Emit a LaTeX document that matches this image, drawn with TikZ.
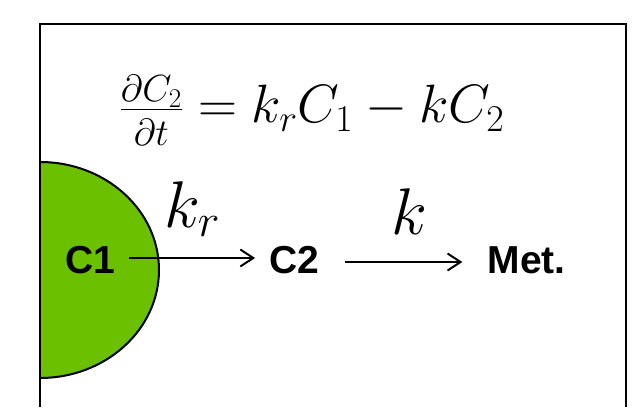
\RequirePackage{fix-cm}
\documentclass[tikz,border=0pt]{standalone}
\usepackage{fontspec}
\newfontfamily\arial{Liberation Sans}
\usetikzlibrary{arrows.meta,positioning}

\definecolor{poolgreen}{RGB}{107,192,0}

\begin{document}
\begin{tikzpicture}[
    x=1pt, y=1pt,
    species/.style={
        font=\arial\fontsize{39}{42}\selectfont\bfseries,
        inner sep=0pt
    },
    rate/.style={
        font=\fontsize{66}{72}\selectfont,
        inner sep=0pt
    },
    eqn/.style={
        font=\fontsize{54}{62}\selectfont,
        inner sep=0pt
    },
    frame/.style={draw=black, line width=2.4pt},
    pool/.style={draw=black, line width=2pt, fill=poolgreen},
    arrow/.style={-{Straight Barb[length=13pt,width=17pt]}, line width=2pt}
]

\useasboundingbox (0,0) rectangle (637,407);

% compartment C1 (half pool on the left wall)
\draw[pool] (40,245) arc[start angle=90, end angle=-90, x radius=119, y radius=108];

% frame, open at the bottom
\draw[frame] (40,0) -- (40,383) -- (626,383) -- (626,0);

% rate equation (baseline of the main line)
\node[eqn, anchor=base] (balance) at (312,284)
{$\frac{\partial C_2\rule[-7pt]{0pt}{7pt}}{\rule{0pt}{35pt}\partial t} = k_r C_1 - k C_2$};

% species
\node[species] (c1) at (90,147) {C1};
\node[species, right=154pt of c1] (c2) {C2};
\node[species, right=168pt of c2] (met) {Met.};

% transfers
\draw[arrow, shorten <=14pt, shorten >=14pt] ([yshift=2pt]c1.east) --
    node[rate, above=20pt] (kr) {$k_r$} ([yshift=2pt]c2.west);
\draw[arrow, shorten <=26pt, shorten >=25pt] ([yshift=-2pt]c2.east) --
    node[rate, above=26pt, xshift=6pt] (k) {$k$} ([yshift=-2pt]met.west);

\end{tikzpicture}
\end{document}
